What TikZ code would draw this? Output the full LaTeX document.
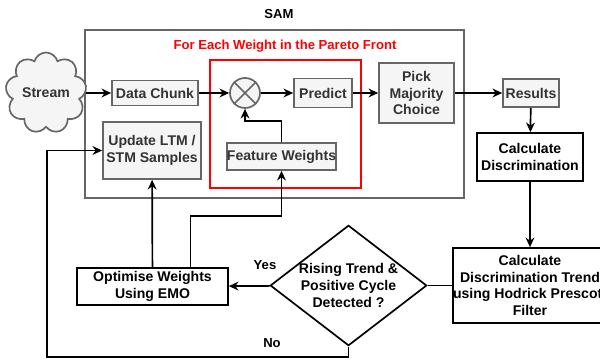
\documentclass[tikz,border=0pt]{standalone}
\usepackage{fontspec}
\setmainfont{Liberation Sans}
\usetikzlibrary{arrows.meta,shapes.symbols,shapes.geometric}
\tikzset{
 graybox/.style={draw=black!60,fill=black!4,line width=1.2pt,font=\bfseries\color{black!80},align=center,inner sep=0pt},
 blackbox/.style={draw=black,fill=white,line width=1.2pt,font=\bfseries,align=center,inner sep=0pt},
 flow/.style={->,line width=1.2pt}
}
\begin{document}
\begin{tikzpicture}[x=0.025cm,y=-0.025cm,>={Stealth[length=2.4mm,width=2.2mm]},font=\fontsize{9.3}{11.4}\selectfont]
 \clip (0,0) rectangle (600,360);
 % SAM frame and the Pareto loop
 \node[draw=black!60,line width=1.2pt,minimum width=9.475cm,minimum height=4.2cm] (sam) at (274.5,114) {};
 \node[font=\fontsize{9.3}{11.4}\selectfont\bfseries] (samlabel) at (279,14) {SAM};
 \node[draw=red,line width=1.2pt,minimum width=3.775cm,minimum height=3.2cm] (pareto) at (285.5,124) {};
 \node[font=\fontsize{9.3}{11.4}\selectfont\bfseries,text=red] (paretolabel) at (285,46) {For Each Weight in the Pareto Front};
 % boxes
 \node[graybox,cloud,cloud puffs=9,minimum width=1.7cm,minimum height=1.5cm] (stream) at (46,93) {Stream};
 \node[graybox,minimum width=2.15cm,minimum height=0.625cm] (chunk) at (155,93) {Data Chunk};
 \node[circle,draw=black!60,fill=black!4,line width=1.2pt,minimum size=0.75cm,inner sep=0pt] (mult) at (245,93) {};
 \draw[black!60,line width=1.2pt] (mult.north west)--(mult.south east) (mult.north east)--(mult.south west);
 \node[graybox,minimum width=1.45cm,minimum height=0.72cm] (predict) at (323,93) {Predict};
 \node[graybox,minimum width=1.875cm,minimum height=1.5cm] (pick) at (416.5,93) {Pick\\Majority\\Choice};
 \node[graybox,minimum width=1.4cm,minimum height=0.7cm] (results) at (531,93) {Results};
 \node[blackbox,minimum width=2.65cm,minimum height=1.2cm] (disc) at (530,157) {Calculate\\Discrimination};
 \node[graybox,minimum width=2.45cm,minimum height=1.425cm] (update) at (152,150.5) {Update LTM /\\STM Samples};
 \node[graybox,minimum width=2.675cm,minimum height=0.675cm] (fweights) at (281.5,156.5) {Feature Weights};
 \node[blackbox,diamond,aspect=1.3,minimum width=3.675cm,minimum height=2.875cm] (rising) at (348.5,285.5) {Rising Trend \&\\Positive Cycle\\Detected ?};
 \node[blackbox,minimum width=3.75cm,minimum height=1.875cm] (hp) at (530,285.5) {Calculate\\Discrimination Trend\\using Hodrick Prescott\\Filter};
 \node[blackbox,minimum width=3.775cm,minimum height=0.925cm] (emo) at (152.5,286.5) {Optimise Weights\\Using EMO};
 \node[font=\fontsize{9.3}{11.4}\selectfont\bfseries] (yes) at (265,265) {Yes};
 \node[font=\fontsize{9.3}{11.4}\selectfont\bfseries] (no) at (272,343) {No};
 \coordinate (loop) at (47,357);
 % connectors
 \draw[flow] (stream)--(chunk);
 \draw[flow] (chunk)--(mult);
 \draw[flow] (mult)--(predict);
 \draw[flow] (predict)--(pick);
 \draw[flow] (pick)--(results);
 \draw[flow] (results)--(disc);
 \draw[flow] (disc)--(hp);
 \draw[line width=1.2pt] (hp)--(rising);
 \draw[flow] (rising)--(emo);
 \draw[flow] (emo)--(update);
 \draw[flow] ([xshift=0.95cm]emo.north)--++(0,-51)-|(fweights.south);
 \draw[flow] (fweights.north)--++(0,-21)-|(mult.south);
 \draw[flow] (rising.south)|-(loop)|-(update.west);
\end{tikzpicture}
\end{document}
